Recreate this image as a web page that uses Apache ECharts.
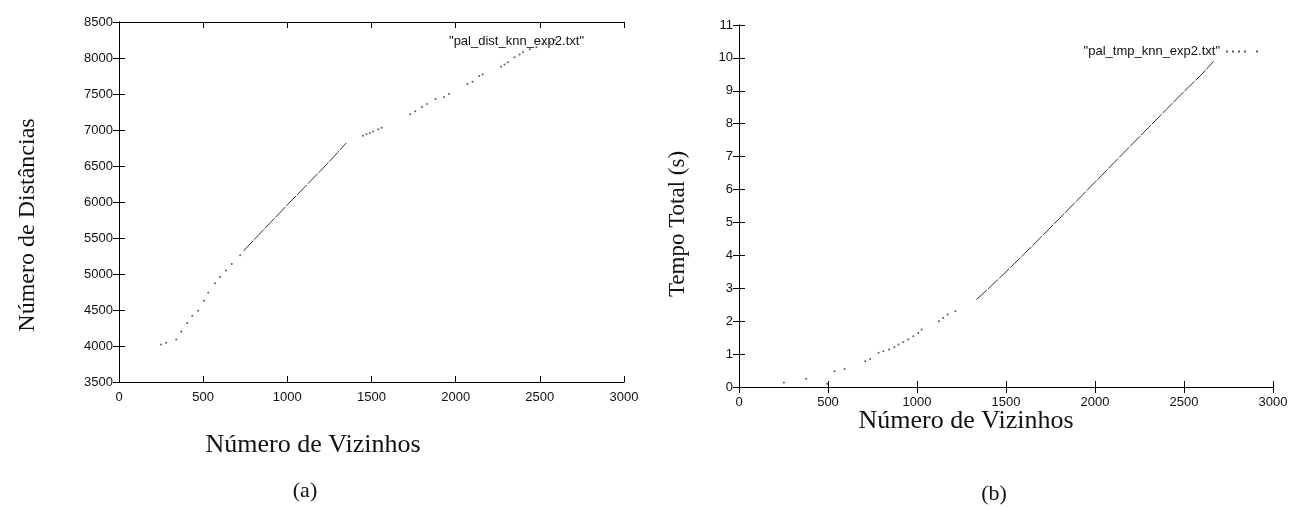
<!DOCTYPE html>
<html><head><meta charset="utf-8">
<script src="https://cdn.jsdelivr.net/npm/echarts@6/dist/echarts.min.js"></script>
<style>html,body{margin:0;padding:0;background:#fff}#c{width:1293px;height:510px}</style>
</head><body><div id="c"></div>
<script>
// ---- data ----
const distName = '"pal_dist_knn_exp2.txt"';
const tmpName = '"pal_tmp_knn_exp2.txt"';
// (a) Número de Distâncias: sparse dots
const distDots = [
  [250,4020],[280,4045],[340,4090],[370,4200],[405,4320],[435,4420],[470,4490],
  [505,4630],[530,4740],[570,4870],[600,4960],[635,5050],[670,5140],[720,5260],
  [1450,6920],[1470,6940],[1490,6960],[1510,6980],[1540,7010],[1560,7030],
  [1730,7220],[1760,7260],[1800,7320],[1830,7360],[1880,7430],[1930,7460],[1960,7500],
  [2070,7640],[2100,7670],[2140,7750],[2160,7770],[2270,7880],[2290,7910],[2310,7940],
  [2350,8010],[2380,8050],[2400,8080],[2440,8120],[2480,8150],[2520,8190],[2560,8220],[2590,8250]
];
// (a) dense run of dots (drawn as a continuous trace)
const distDense = [
  [740,5320],[800,5470],[900,5715],[1000,5960],[1100,6200],[1200,6440],[1300,6690],[1350,6820]
];
// (b) Tempo Total (s): sparse dots
const tmpDots = [
  [252,0.14],[377,0.25],[495,0.10],[537,0.48],[593,0.55],[709,0.78],[737,0.85],
  [784,1.04],[811,1.09],[843,1.14],[873,1.21],[896,1.29],[923,1.37],[951,1.44],
  [979,1.54],[1007,1.64],[1026,1.75],[1123,2.0],[1147,2.1],[1172,2.2],[1216,2.3]
];
// (b) dense run
const tmpDense = [
  [1334,2.66],[1400,2.98],[1500,3.50],[1600,4.03],[1700,4.57],[1800,5.12],[1900,5.67],
  [2000,6.22],[2100,6.78],[2200,7.33],[2300,7.88],[2400,8.43],[2500,8.98],[2600,9.50],[2667,9.90]
];
const xTicks = {min:0, max:3000, interval:500};
const distTicks = {min:3500, max:8500, interval:500};
const tmpTicks = {min:0, max:11, interval:1};

// ---- styles ----
const SANS = 'Liberation Sans', SERIF = 'Liberation Serif';
const INK = '#111', DOT = '#333';
function lineS(){ return {show:true, lineStyle:{color:'#000', width:1}}; }
function tickS(){ return {show:true, inside:false, length:-6, lineStyle:{color:'#000', width:1}}; }
function lab(show, margin){
  return {show:show, margin:margin, color:INK, fontFamily:SANS, fontSize:13,
          formatter:function(v){ return String(v); }};
}

function xAx(grid, pos, showLab){
  return Object.assign({type:'value', gridIndex:grid, position:pos, axisLine:lineS(), axisTick:tickS(),
    splitLine:{show:false}, axisLabel:lab(showLab, 9)}, xTicks);
}
function yAx(grid, pos, showLab, t){
  return Object.assign({type:'value', gridIndex:grid, position:pos, axisLine:lineS(), axisTick:tickS(),
    splitLine:{show:false}, axisLabel:lab(showLab, 6)}, t);
}

const chart = echarts.init(document.getElementById('c'));
chart.setOption({
  animation:false,
  backgroundColor:'#fff',
  grid:[
    {left:119, right:669, top:22, bottom:128},
    {left:739, right:20, top:25, bottom:123}
  ],
  xAxis:[xAx(0,'bottom',true), xAx(0,'top',false), xAx(1,'bottom',true), xAx(1,'top',false)],
  yAxis:[yAx(0,'left',true,distTicks), yAx(0,'right',false,distTicks),
         yAx(1,'left',true,tmpTicks), yAx(1,'right',false,tmpTicks)],
  legend:[
    {data:[distName], right:1293-594, top:30, icon:'none', itemWidth:4, itemHeight:2, align:'right',
     selectedMode:false, textStyle:{color:INK, fontFamily:SANS, fontSize:13}},
    {data:[tmpName], right:30, top:40, align:'right', itemWidth:34, itemHeight:2, itemGap:5,
     icon:'path://M0,0h2v2h-2zM6,0h2v2h-2zM12,0h2v2h-2zM18,0h2v2h-2zM30,0h2v2h-2z',
     selectedMode:false, textStyle:{color:INK, fontFamily:SANS, fontSize:13}}
  ],
  series:[
    {name:distName, type:'scatter', xAxisIndex:0, yAxisIndex:0, data:distDots, symbolSize:2,
     itemStyle:{color:DOT}},
    {name:distName, type:'line', xAxisIndex:0, yAxisIndex:0, data:distDense, showSymbol:false,
     lineStyle:{color:DOT, width:1, type:[14,1.5]}},
    {name:tmpName, type:'scatter', xAxisIndex:2, yAxisIndex:2, data:tmpDots, symbolSize:2,
     itemStyle:{color:DOT}},
    {name:tmpName, type:'line', xAxisIndex:2, yAxisIndex:2, data:tmpDense, showSymbol:false,
     lineStyle:{color:DOT, width:1, type:[14,1.5]}}
  ],
  graphic:[
    {type:'text', x:28, y:225, rotation:Math.PI/2, style:{text:'Número de Distâncias', fontFamily:SERIF,
      fontSize:24, fill:INK, align:'center', verticalAlign:'middle'}},
    {type:'text', x:678, y:224, rotation:Math.PI/2, style:{text:'Tempo Total (s)', fontFamily:SERIF,
      fontSize:23, fill:INK, align:'center', verticalAlign:'middle'}},
    {type:'text', x:313, y:445, style:{text:'Número de Vizinhos', fontFamily:SERIF,
      fontSize:26, fill:INK, align:'center', verticalAlign:'middle'}},
    {type:'text', x:966, y:421, style:{text:'Número de Vizinhos', fontFamily:SERIF,
      fontSize:26, fill:INK, align:'center', verticalAlign:'middle'}},
    {type:'text', x:305, y:491, style:{text:'(a)', fontFamily:SERIF,
      fontSize:22, fill:INK, align:'center', verticalAlign:'middle'}},
    {type:'text', x:994, y:494, style:{text:'(b)', fontFamily:SERIF,
      fontSize:22, fill:INK, align:'center', verticalAlign:'middle'}}
  ]
});
</script>
</body></html>
